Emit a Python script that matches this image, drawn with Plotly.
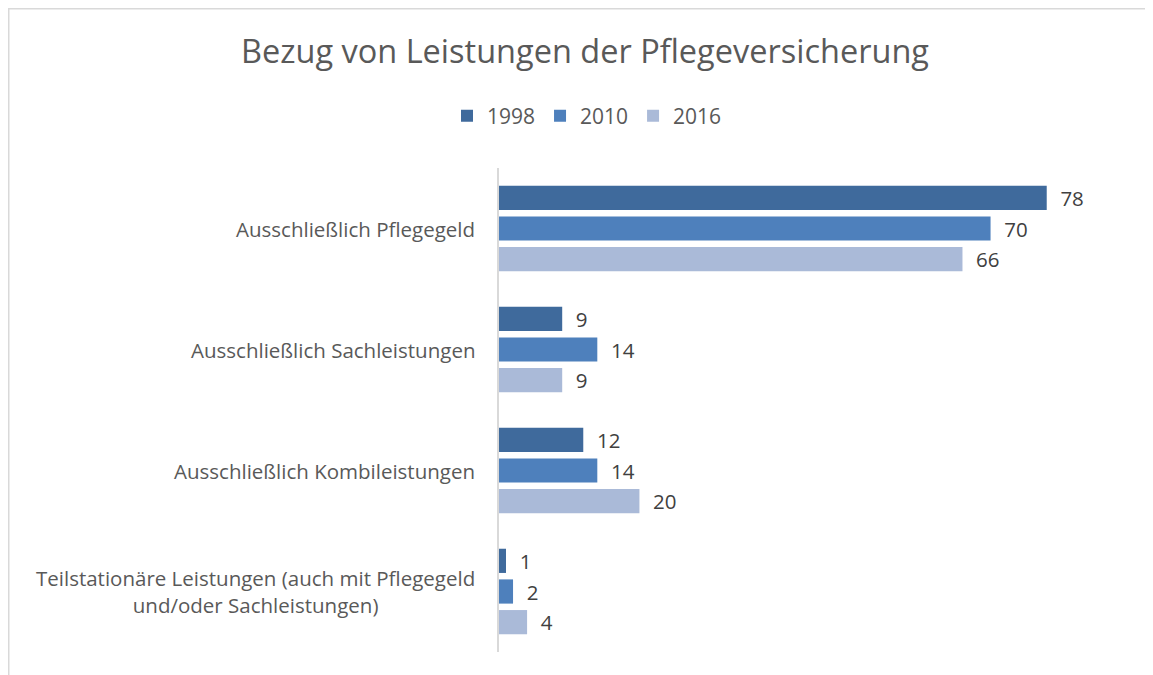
import plotly.graph_objects as go

categories = [
    "Ausschließlich Pflegegeld",
    "Ausschließlich Sachleistungen",
    "Ausschließlich Kombileistungen",
    "Teilstationäre Leistungen (auch mit Pflegegeld<br>und/oder Sachleistungen)",
]
cat_keys = ["c1", "c2", "c3", "c4"]
series_names = ["1998", "2010", "2016"]
values_1998 = [78, 9, 12, 1]
values_2010 = [70, 14, 14, 2]
values_2016 = [66, 9, 20, 4]
colors = ["#3F6A9C", "#4E80BC", "#AABAD8"]

# page body has an 8px margin; figure sized/positioned accordingly
W, H = 1145, 667
ml, mr, mt, mb = 491, 22, 160, 23
PW = W - ml - mr
PH = H - mt - mb

fig = go.Figure()
for name, vals, col in zip(series_names, [values_1998, values_2010, values_2016], colors):
    fig.add_trace(go.Bar(
        y=cat_keys, x=vals, name=name, orientation="h",
        marker=dict(color=col, line=dict(width=0)),
        text=["  " + str(v) for v in vals], textposition="outside",
        constraintext="none",
        textfont=dict(size=20.5, color="#404040", family="Open Sans"),
        cliponaxis=False,
    ))

for key, label in zip(cat_keys, categories):
    fig.add_annotation(
        x=0, xref="paper", y=key, yref="y", text=label,
        xanchor="right", align="center", showarrow=False,
        font=dict(size=20.5, color="#595959", family="Open Sans"),
        xshift=-22,
    )

fig.add_shape(type="rect", xref="paper", yref="paper",
              x0=-(ml - 0.75) / PW, x1=1.5,
              y0=-0.5, y1=1 + (mt - 0.75) / PH,
              line=dict(color="#D9D9D9", width=1.5), fillcolor="rgba(0,0,0,0)", layer="below")

fig.update_layout(
    width=W, height=H,
    margin=dict(l=ml, r=mr, t=mt, b=mb),
    paper_bgcolor="white", plot_bgcolor="white",
    barmode="group", bargap=0.24, bargroupgap=0.21,
    title=dict(text="Bezug von Leistungen der Pflegeversicherung", x=577 / W, xanchor="center",
               y=1 - 44 / H, yanchor="middle",
               font=dict(size=32.5, color="#595959", family="Open Sans")),
    legend=dict(orientation="h", x=(579 - ml) / PW, xanchor="center", y=1 + (mt - 108) / PH,
                yanchor="middle", font=dict(size=21, color="#595959", family="Open Sans"),
                traceorder="normal", itemwidth=30),
    showlegend=True,
    xaxis=dict(range=[0, 90], showgrid=False, showticklabels=False, zeroline=False,
               showline=False, ticks=""),
    yaxis=dict(categoryorder="array", categoryarray=cat_keys, autorange="reversed",
               showticklabels=False, showgrid=False, zeroline=False,
               showline=True, linecolor="#D9D9D9", linewidth=2, ticks=""),
)

fig.write_html("out.html")
